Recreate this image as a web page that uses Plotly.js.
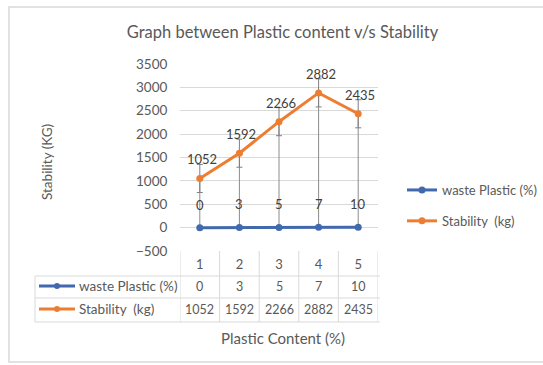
<!DOCTYPE html>
<html>
<head>
<meta charset="utf-8">
<script src="https://cdn.plot.ly/plotly-3.0.1.min.js"></script>
<style>html,body{margin:0;padding:0;background:#fff;}#chart{width:543px;height:365px;}</style>
</head>
<body>
<div id="chart"></div>
<script>
// ---- data ----
const categories = [1, 2, 3, 4, 5];
const wastePlastic = [0, 3, 5, 7, 10];
const stability = [1052, 1592, 2266, 2882, 2435];
const stabilityError = [300, 300, 300, 300, 300];
const seriesNames = ['waste Plastic (%)', 'Stability  (kg)'];
const yTicks = [-500, 0, 500, 1000, 1500, 2000, 2500, 3000, 3500];

// ---- style ----
const W = 543, H = 365;
const M = {l: 180, r: 165, t: 64, b: 114, autoexpand: false};
const PW = W - M.l - M.r, PH = H - M.t - M.b;
const px = x => (x - M.l) / PW;          // pixel -> paper x
const py = y => (H - M.b - y) / PH;      // pixel -> paper y
const FONT = 'Lato, "Open Sans", sans-serif';
const TXT = '#595959';
const BLUE = '#4169ad', ORANGE = '#ed7d31', GRID = '#d9d9d9';

// drop lines from each stability point down to zero
const dropX = [], dropY = [];
categories.forEach((c, i) => { dropX.push(c, c, null); dropY.push(0, stability[i], null); });

const traces = [
  {x: dropX, y: dropY, mode: 'lines', line: {color: '#8c8c8c', width: 1}, showlegend: false, hoverinfo: 'skip'},
  {x: categories, y: wastePlastic, name: seriesNames[0], mode: 'lines+markers',
   line: {color: BLUE, width: 3}, marker: {color: BLUE, size: 7}, legendgroup: 'a'},
  {x: categories, y: stability, name: seriesNames[1], mode: 'lines+markers',
   line: {color: ORANGE, width: 3}, marker: {color: ORANGE, size: 7}, legendgroup: 'b',
   error_y: {type: 'data', array: stabilityError, visible: true, color: '#7f7f7f', thickness: 1, width: 3}}
];

const annotations = [];
// data labels
categories.forEach((c, i) => {
  annotations.push({x: c, y: stability[i], xref: 'x', yref: 'y', text: String(stability[i]), showarrow: false,
    xanchor: 'center', yanchor: 'middle', yshift: 19, xshift: 2, font: {family: FONT, size: 13, color: '#404040'}});
  annotations.push({x: c, y: wastePlastic[i], xref: 'x', yref: 'y', text: String(wastePlastic[i]), showarrow: false,
    xanchor: 'center', yanchor: 'middle', yshift: 23, font: {family: FONT, size: 13, color: '#404040'}});
});
// table values
const rowY = [286, 309];
const rows = [wastePlastic, stability];
rows.forEach((r, k) => {
  categories.forEach((c, i) => {
    annotations.push({x: c, y: py(rowY[k]), xref: 'x', yref: 'paper', text: String(r[i]), showarrow: false,
      xanchor: 'center', yanchor: 'middle', font: {family: FONT, size: 12.5, color: TXT}});
  });
  annotations.push({x: px(77), y: py(rowY[k]), xref: 'paper', yref: 'paper', xanchor: 'left', yanchor: 'middle', text: seriesNames[k],
    showarrow: false, font: {family: FONT, size: 13.5, color: TXT}});
});
// axis titles
annotations.push({x: px(283), y: py(338), xref: 'paper', yref: 'paper', text: 'Plastic Content (%)', showarrow: false,
  xanchor: 'center', yanchor: 'middle', font: {family: FONT, size: 15, color: TXT}});
annotations.push({x: px(47), y: py(162), xref: 'paper', yref: 'paper', text: 'Stability (KG)', textangle: -90, showarrow: false,
  xanchor: 'center', yanchor: 'middle', font: {family: FONT, size: 13.5, color: TXT}});

const shapes = [];
const gl = {color: GRID, width: 1};
// outer frame
shapes.push({type: 'rect', xref: 'paper', yref: 'paper', x0: px(9), x1: px(545), y0: py(362), y1: py(7), line: {color: '#d9d9d9', width: 1.5}, layer: 'below'});
// table vertical lines at category borders
[0.5, 1.5, 2.5, 3.5, 4.5, 5.5].forEach(b => shapes.push({type: 'line', xref: 'x', yref: 'paper', x0: b, x1: b, y0: py(251), y1: py(322), line: gl}));
shapes.push({type: 'line', xref: 'paper', yref: 'paper', x0: px(35), x1: px(35), y0: py(276), y1: py(322), line: gl});
[276, 298, 322].forEach(y => shapes.push({type: 'line', xref: 'paper', yref: 'paper', x0: px(35), x1: px(380), y0: py(y), y1: py(y), line: gl}));
// legend keys inside table
[BLUE, ORANGE].forEach((col, k) => {
  shapes.push({type: 'line', xref: 'paper', yref: 'paper', x0: px(39), x1: px(75), y0: py(rowY[k]), y1: py(rowY[k]), line: {color: col, width: 3}});
  shapes.push({type: 'circle', xref: 'paper', yref: 'paper', x0: px(54), x1: px(60), y0: py(rowY[k] + 3), y1: py(rowY[k] - 3), fillcolor: col, line: {color: col, width: 0}});
});

const layout = {
  width: W, height: H, margin: M,
  paper_bgcolor: '#ffffff', plot_bgcolor: '#ffffff',
  title: {text: 'Graph between Plastic content v/s Stability', x: px(283), xanchor: 'center', y: 1 - 32 / H, yanchor: 'middle',
    font: {family: FONT, size: 16.5, color: TXT}},
  xaxis: {range: [0.5, 5.5], tickvals: categories, ticktext: categories.map(String), showgrid: false, zeroline: false,
    showline: false, ticks: '', ticklabelstandoff: 4, tickfont: {family: FONT, size: 13, color: TXT}},
  yaxis: {range: [-500, 3500], tickvals: yTicks, showgrid: true, gridcolor: GRID, gridwidth: 1, zeroline: false,
    showline: false, ticks: 'outside', ticklen: 9, tickcolor: 'rgba(0,0,0,0)', tickfont: {family: FONT, size: 13.5, color: TXT}},
  legend: {x: px(402), y: py(175), xanchor: 'left', yanchor: 'top', traceorder: 'grouped', tracegroupgap: 11,
    font: {family: FONT, size: 13, color: TXT}, bgcolor: 'rgba(0,0,0,0)'},
  showlegend: true,
  annotations: annotations, shapes: shapes
};

Plotly.newPlot('chart', traces, layout, {displayModeBar: false, staticPlot: true});
</script>
</body>
</html>
